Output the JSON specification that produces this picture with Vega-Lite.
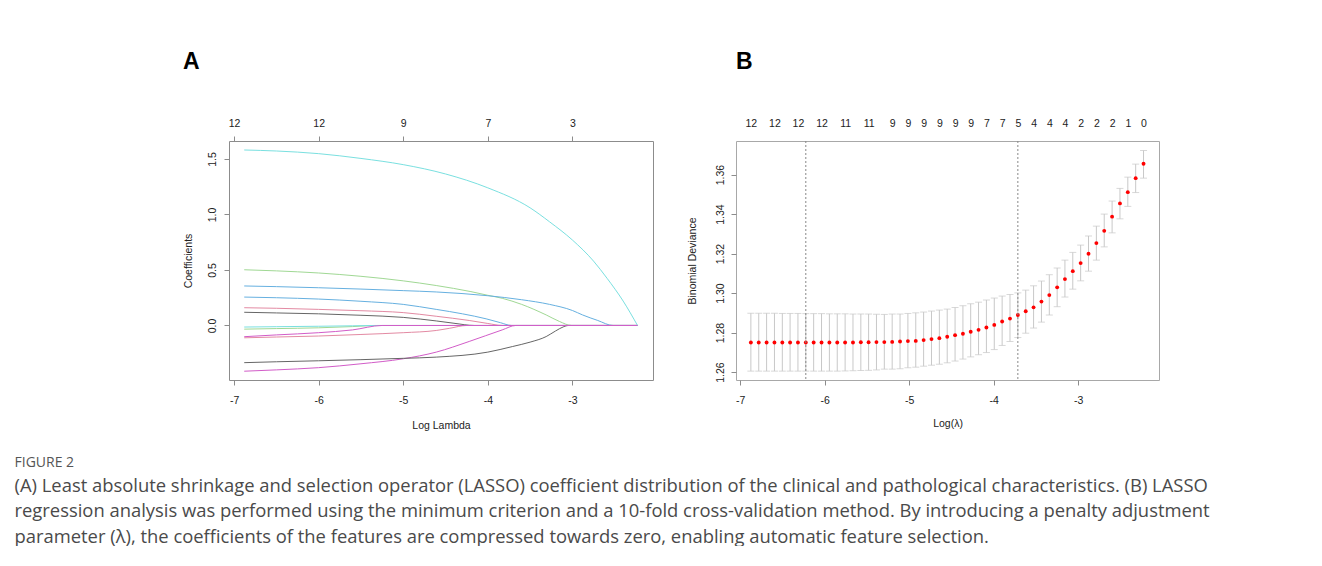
{
  "$schema": "https://vega.github.io/schema/vega-lite/v6.json",
  "padding": {"left": 14, "top": 50, "right": 0, "bottom": 0},
  "background": "white",
  "config": {
    "font": "Liberation Sans",
    "view": {"stroke": "#8c8c8c"},
    "axis": {"grid": false, "domain": false, "tickColor": "#8c8c8c", "tickSize": 5, "labelFont": "Liberation Sans", "labelFontSize": 10.5, "labelColor": "#222", "titleFont": "Liberation Sans", "titleFontSize": 10.5, "titleFontWeight": "normal", "titleColor": "#222", "labelPadding": 8, "labelFlush": false, "labelOverlap": false}
  },
  "title": {
    "text": "FIGURE 2",
    "subtitle": [
      "(A) Least absolute shrinkage and selection operator (LASSO) coefficient distribution of the clinical and pathological characteristics. (B) LASSO",
      "regression analysis was performed using the minimum criterion and a 10-fold cross-validation method. By introducing a penalty adjustment",
      "parameter (λ), the coefficients of the features are compressed towards zero, enabling automatic feature selection."
    ],
    "orient": "bottom", "anchor": "start", "frame": "bounds", "dx": -168, "offset": 24,
    "font": "Open Sans", "fontSize": 14, "fontWeight": "normal", "color": "#555",
    "subtitleFont": "Open Sans", "subtitleFontSize": 18.4, "subtitleColor": "#4a4a4a", "subtitlePadding": 7, "subtitleLineHeight": 25.5
  },
  "datasets": {
    "paths": [
      {"s":"S01","x":-6.88,"y":0.119},{"s":"S01","x":-6.5,"y":0.113},{"s":"S01","x":-6,"y":0.105},{"s":"S01","x":-5.5,"y":0.092},{"s":"S01","x":-5,"y":0.073},{"s":"S01","x":-4.8,"y":0.058},{"s":"S01","x":-4.61,"y":0.041},{"s":"S01","x":-4.4,"y":0.02},{"s":"S01","x":-4.16,"y":0},{"s":"S01","x":-2.23,"y":0},
      {"s":"S02","x":-6.88,"y":0.16},{"s":"S02","x":-6.5,"y":0.155},{"s":"S02","x":-6,"y":0.145},{"s":"S02","x":-5.5,"y":0.133},{"s":"S02","x":-5,"y":0.116},{"s":"S02","x":-4.61,"y":0.083},{"s":"S02","x":-4.22,"y":0.045},{"s":"S02","x":-4,"y":0.018},{"s":"S02","x":-3.83,"y":0},{"s":"S02","x":-2.23,"y":0},
      {"s":"S03","x":-6.88,"y":0.502},{"s":"S03","x":-6.5,"y":0.492},{"s":"S03","x":-6,"y":0.473},{"s":"S03","x":-5.5,"y":0.443},{"s":"S03","x":-5,"y":0.402},{"s":"S03","x":-4.61,"y":0.36},{"s":"S03","x":-4.2,"y":0.305},{"s":"S03","x":-4,"y":0.272},{"s":"S03","x":-3.83,"y":0.245},{"s":"S03","x":-3.6,"y":0.19},{"s":"S03","x":-3.31,"y":0.095},{"s":"S03","x":-3.15,"y":0.035},{"s":"S03","x":-3.01,"y":0},{"s":"S03","x":-2.23,"y":0},
      {"s":"S04","x":-6.88,"y":0.356},{"s":"S04","x":-6.5,"y":0.35},{"s":"S04","x":-6,"y":0.34},{"s":"S04","x":-5.5,"y":0.328},{"s":"S04","x":-5,"y":0.314},{"s":"S04","x":-4.61,"y":0.302},{"s":"S04","x":-4,"y":0.268},{"s":"S04","x":-3.6,"y":0.232},{"s":"S04","x":-3.27,"y":0.19},{"s":"S04","x":-3,"y":0.135},{"s":"S04","x":-2.88,"y":0.095},{"s":"S04","x":-2.7,"y":0.045},{"s":"S04","x":-2.52,"y":0},{"s":"S04","x":-2.23,"y":0},
      {"s":"S05","x":-6.88,"y":1.581},{"s":"S05","x":-6.5,"y":1.572},{"s":"S05","x":-6,"y":1.548},{"s":"S05","x":-5.5,"y":1.505},{"s":"S05","x":-5,"y":1.449},{"s":"S05","x":-4.5,"y":1.365},{"s":"S05","x":-4,"y":1.24},{"s":"S05","x":-3.5,"y":1.06},{"s":"S05","x":-3.27,"y":0.934},{"s":"S05","x":-3,"y":0.77},{"s":"S05","x":-2.75,"y":0.58},{"s":"S05","x":-2.59,"y":0.425},{"s":"S05","x":-2.4,"y":0.22},{"s":"S05","x":-2.23,"y":0},
      {"s":"S06","x":-6.88,"y":-0.412},{"s":"S06","x":-6.5,"y":-0.4},{"s":"S06","x":-6,"y":-0.38},{"s":"S06","x":-5.5,"y":-0.345},{"s":"S06","x":-5,"y":-0.3},{"s":"S06","x":-4.61,"y":-0.24},{"s":"S06","x":-4.22,"y":-0.144},{"s":"S06","x":-3.83,"y":-0.04},{"s":"S06","x":-3.67,"y":0},{"s":"S06","x":-2.23,"y":0},
      {"s":"S07","x":-6.88,"y":-0.335},{"s":"S07","x":-6.5,"y":-0.327},{"s":"S07","x":-6,"y":-0.318},{"s":"S07","x":-5.5,"y":-0.308},{"s":"S07","x":-5,"y":-0.296},{"s":"S07","x":-4.61,"y":-0.285},{"s":"S07","x":-4,"y":-0.24},{"s":"S07","x":-3.71,"y":-0.19},{"s":"S07","x":-3.5,"y":-0.15},{"s":"S07","x":-3.31,"y":-0.1},{"s":"S07","x":-3.2,"y":-0.05},{"s":"S07","x":-3.1,"y":-0.01},{"s":"S07","x":-3.05,"y":0},{"s":"S07","x":-2.23,"y":0},
      {"s":"S08","x":-6.88,"y":-0.111},{"s":"S08","x":-6.5,"y":-0.104},{"s":"S08","x":-6,"y":-0.095},{"s":"S08","x":-5.5,"y":-0.081},{"s":"S08","x":-5,"y":-0.065},{"s":"S08","x":-4.61,"y":-0.045},{"s":"S08","x":-4.45,"y":-0.025},{"s":"S08","x":-4.25,"y":0},{"s":"S08","x":-2.23,"y":0},
      {"s":"S09","x":-6.88,"y":-0.033},{"s":"S09","x":-6.5,"y":-0.028},{"s":"S09","x":-6,"y":-0.021},{"s":"S09","x":-5.6,"y":-0.01},{"s":"S09","x":-5.3,"y":0},{"s":"S09","x":-2.23,"y":0},
      {"s":"S10","x":-6.88,"y":0.256},{"s":"S10","x":-6.5,"y":0.25},{"s":"S10","x":-6,"y":0.238},{"s":"S10","x":-5.5,"y":0.218},{"s":"S10","x":-5,"y":0.19},{"s":"S10","x":-4.61,"y":0.145},{"s":"S10","x":-4.3,"y":0.105},{"s":"S10","x":-4.02,"y":0.06},{"s":"S10","x":-3.85,"y":0.025},{"s":"S10","x":-3.72,"y":0},{"s":"S10","x":-2.23,"y":0},
      {"s":"S11","x":-6.88,"y":-0.014},{"s":"S11","x":-6.5,"y":-0.011},{"s":"S11","x":-6,"y":-0.007},{"s":"S11","x":-5.6,"y":-0.003},{"s":"S11","x":-5.33,"y":0},{"s":"S11","x":-2.23,"y":0},
      {"s":"S12","x":-6.88,"y":-0.101},{"s":"S12","x":-6.5,"y":-0.085},{"s":"S12","x":-6,"y":-0.065},{"s":"S12","x":-5.6,"y":-0.04},{"s":"S12","x":-5.25,"y":0},{"s":"S12","x":-2.23,"y":0}
    ],
    "cv": [
      {"x":-6.874,"dev":1.2750,"hi":1.2898,"lo":1.2605},
      {"x":-6.781,"dev":1.2750,"hi":1.2898,"lo":1.2605},
      {"x":-6.688,"dev":1.2750,"hi":1.2898,"lo":1.2605},
      {"x":-6.595,"dev":1.2750,"hi":1.2898,"lo":1.2605},
      {"x":-6.502,"dev":1.2750,"hi":1.2897,"lo":1.2605},
      {"x":-6.410,"dev":1.2750,"hi":1.2897,"lo":1.2605},
      {"x":-6.317,"dev":1.2750,"hi":1.2897,"lo":1.2605},
      {"x":-6.224,"dev":1.2750,"hi":1.2896,"lo":1.2605},
      {"x":-6.131,"dev":1.2750,"hi":1.2896,"lo":1.2605},
      {"x":-6.038,"dev":1.2750,"hi":1.2896,"lo":1.2605},
      {"x":-5.945,"dev":1.2750,"hi":1.2895,"lo":1.2605},
      {"x":-5.852,"dev":1.2750,"hi":1.2895,"lo":1.2605},
      {"x":-5.759,"dev":1.2750,"hi":1.2895,"lo":1.2606},
      {"x":-5.666,"dev":1.2750,"hi":1.2894,"lo":1.2607},
      {"x":-5.573,"dev":1.2751,"hi":1.2894,"lo":1.2608},
      {"x":-5.481,"dev":1.2751,"hi":1.2894,"lo":1.2609},
      {"x":-5.388,"dev":1.2752,"hi":1.2893,"lo":1.2611},
      {"x":-5.295,"dev":1.2752,"hi":1.2892,"lo":1.2615},
      {"x":-5.202,"dev":1.2753,"hi":1.2894,"lo":1.2615},
      {"x":-5.109,"dev":1.2755,"hi":1.2894,"lo":1.2617},
      {"x":-5.016,"dev":1.2757,"hi":1.2897,"lo":1.2622},
      {"x":-4.923,"dev":1.2758,"hi":1.2900,"lo":1.2625},
      {"x":-4.830,"dev":1.2762,"hi":1.2904,"lo":1.2630},
      {"x":-4.737,"dev":1.2767,"hi":1.2909,"lo":1.2635},
      {"x":-4.644,"dev":1.2772,"hi":1.2914,"lo":1.2640},
      {"x":-4.551,"dev":1.2779,"hi":1.2919,"lo":1.2647},
      {"x":-4.458,"dev":1.2787,"hi":1.2927,"lo":1.2656},
      {"x":-4.365,"dev":1.2794,"hi":1.2936,"lo":1.2666},
      {"x":-4.273,"dev":1.2804,"hi":1.2946,"lo":1.2677},
      {"x":-4.180,"dev":1.2814,"hi":1.2954,"lo":1.2688},
      {"x":-4.087,"dev":1.2826,"hi":1.2965,"lo":1.2699},
      {"x":-3.994,"dev":1.2839,"hi":1.2975,"lo":1.2714},
      {"x":-3.901,"dev":1.2856,"hi":1.2985,"lo":1.2735},
      {"x":-3.808,"dev":1.2871,"hi":1.2993,"lo":1.2755},
      {"x":-3.715,"dev":1.2889,"hi":1.3001,"lo":1.2775},
      {"x":-3.622,"dev":1.2908,"hi":1.3015,"lo":1.2797},
      {"x":-3.529,"dev":1.2928,"hi":1.3037,"lo":1.2823},
      {"x":-3.436,"dev":1.2957,"hi":1.3061,"lo":1.2853},
      {"x":-3.343,"dev":1.2990,"hi":1.3093,"lo":1.2889},
      {"x":-3.250,"dev":1.3029,"hi":1.3127,"lo":1.2931},
      {"x":-3.158,"dev":1.3071,"hi":1.3167,"lo":1.2980},
      {"x":-3.065,"dev":1.3111,"hi":1.3206,"lo":1.3020},
      {"x":-2.972,"dev":1.3152,"hi":1.3243,"lo":1.3062},
      {"x":-2.879,"dev":1.3199,"hi":1.3289,"lo":1.3111},
      {"x":-2.786,"dev":1.3253,"hi":1.3339,"lo":1.3167},
      {"x":-2.693,"dev":1.3315,"hi":1.3400,"lo":1.3234},
      {"x":-2.600,"dev":1.3387,"hi":1.3466,"lo":1.3305},
      {"x":-2.507,"dev":1.3454,"hi":1.3530,"lo":1.3376},
      {"x":-2.414,"dev":1.3511,"hi":1.3587,"lo":1.3439},
      {"x":-2.321,"dev":1.3582,"hi":1.3653,"lo":1.3509},
      {"x":-2.228,"dev":1.3655,"hi":1.3722,"lo":1.3582}
    ],
    "cvlines": [{"x": -6.224}, {"x": -3.715}]
  },
  "spacing": 32,
  "hconcat": [
    {
      "width": 424, "height": 239,
      "title": {"text": "A", "anchor": "start", "frame": "bounds", "fontSize": 23, "fontWeight": "bold", "color": "#000", "font": "Liberation Sans", "baseline": "alphabetic", "offset": 26},
      "data": {"name": "paths"},
      "layer": [
        {
          "transform": [{"filter": {"field": "s", "oneOf": ["S01","S02","S03","S04","S05","S06"]}}],
          "mark": {"type": "line", "interpolate": "monotone", "strokeWidth": 1},
          "encoding": {
            "x": {"field": "x", "type": "quantitative", "scale": {"domain": [-7.06, -2.047], "nice": false, "zero": false}, "axis": {"orient": "bottom", "title": "Log Lambda", "values": [-7,-6,-5,-4,-3], "labelExpr": "'' + datum.value", "labelPadding": 10, "titlePadding": 15}},
            "y": {"field": "y", "type": "quantitative", "scale": {"domain": [-0.4912, 1.662], "nice": false, "zero": false}, "axis": {"title": "Coefficients", "values": [0, 0.5, 1, 1.5], "labelExpr": "format(datum.value, '.1f')", "labelAngle": 270, "labelPadding": 7, "titlePadding": 14}},
            "color": {"field": "s", "type": "nominal", "legend": null, "scale": {"domain": ["S01","S02","S03","S04","S05","S06","S07","S08","S09","S10","S11","S12"], "range": ["#666666","#e38aa3","#a0d894","#66b0e0","#7ae0e0","#d25cc8","#666666","#e38aa3","#a0d894","#66b0e0","#7ae0e0","#d25cc8"]}},
            "order": {"field": "x", "type": "quantitative"}
          }
        },
        {
          "transform": [{"filter": {"field": "s", "oneOf": ["S07","S08","S09","S10","S11","S12"]}}],
          "mark": {"type": "line", "interpolate": "monotone", "strokeWidth": 1},
          "encoding": {
            "x": {"field": "x", "type": "quantitative", "scale": {"domain": [-7.06, -2.047], "nice": false, "zero": false}, "axis": {"orient": "top", "title": null, "values": [-7,-6,-5,-4,-3], "labelExpr": "['12','12','9','7','3'][indexof([-7,-6,-5,-4,-3], datum.value)]"}},
            "y": {"field": "y", "type": "quantitative", "scale": {"domain": [-0.4912, 1.662], "nice": false, "zero": false}, "axis": {"title": "Coefficients", "values": [0, 0.5, 1, 1.5], "labelExpr": "format(datum.value, '.1f')", "labelAngle": 270, "labelPadding": 7, "titlePadding": 14}},
            "color": {"field": "s", "type": "nominal", "legend": null, "scale": {"domain": ["S01","S02","S03","S04","S05","S06","S07","S08","S09","S10","S11","S12"], "range": ["#666666","#e38aa3","#a0d894","#66b0e0","#7ae0e0","#d25cc8","#666666","#e38aa3","#a0d894","#66b0e0","#7ae0e0","#d25cc8"]}},
            "order": {"field": "x", "type": "quantitative"}
          }
        }
      ],
      "resolve": {"axis": {"x": "independent"}}
    },
    {
      "width": 423, "height": 239,
      "view": {"stroke": "#a8a8a8"},
      "title": {"text": "B", "anchor": "start", "frame": "group", "fontSize": 23, "fontWeight": "bold", "color": "#000", "font": "Liberation Sans", "baseline": "alphabetic", "offset": 26},
      "layer": [
        {
          "data": {"name": "cv"},
          "mark": {"type": "errorbar", "ticks": {"size": 7}, "color": "#c8c8c8", "thickness": 1},
          "encoding": {
            "x": {"field": "x", "type": "quantitative", "scale": {"domain": [-7.05, -2.045], "nice": false, "zero": false}, "axis": {"orient": "bottom", "title": "Log(λ)", "values": [-7,-6,-5,-4,-3], "labelExpr": "'' + datum.value", "labelPadding": 10, "titlePadding": 13}},
            "y": {"field": "lo", "type": "quantitative", "scale": {"domain": [1.256, 1.377], "nice": false, "zero": false}, "axis": {"title": "Binomial Deviance", "values": [1.26, 1.28, 1.30, 1.32, 1.34, 1.36], "labelExpr": "format(datum.value, '.2f')", "labelAngle": 270, "labelPadding": 6, "titlePadding": 18}},
            "y2": {"field": "hi"}
          }
        },
        {
          "data": {"name": "cv"},
          "mark": {"type": "circle", "color": "#ff0000", "size": 15, "opacity": 1},
          "encoding": {
            "x": {"field": "x", "type": "quantitative", "scale": {"domain": [-7.05, -2.045], "nice": false, "zero": false}, "axis": {"orient": "top", "title": null, "ticks": false, "labelPadding": 13, "values": [-6.874,-6.595,-6.317,-6.038,-5.759,-5.481,-5.202,-5.016,-4.830,-4.644,-4.458,-4.273,-4.087,-3.901,-3.715,-3.529,-3.343,-3.158,-2.972,-2.786,-2.600,-2.414,-2.228], "labelExpr": "['12','12','12','12','11','11','9','9','9','9','9','9','7','7','5','4','4','4','2','2','2','1','0'][indexof([-6.874,-6.595,-6.317,-6.038,-5.759,-5.481,-5.202,-5.016,-4.830,-4.644,-4.458,-4.273,-4.087,-3.901,-3.715,-3.529,-3.343,-3.158,-2.972,-2.786,-2.600,-2.414,-2.228], datum.value)]"}},
            "y": {"field": "dev", "type": "quantitative", "scale": {"domain": [1.256, 1.377], "nice": false, "zero": false}, "axis": {"title": "Binomial Deviance", "values": [1.26, 1.28, 1.30, 1.32, 1.34, 1.36], "labelExpr": "format(datum.value, '.2f')", "labelAngle": 270, "labelPadding": 6, "titlePadding": 18}}
          }
        },
        {
          "data": {"name": "cvlines"},
          "mark": {"type": "rule", "color": "#888888", "strokeDash": [2, 2], "strokeWidth": 1},
          "encoding": {
            "x": {"field": "x", "type": "quantitative", "scale": {"domain": [-7.05, -2.045], "nice": false, "zero": false}, "axis": null}
          }
        }
      ],
      "resolve": {"axis": {"x": "independent"}}
    }
  ]
}
